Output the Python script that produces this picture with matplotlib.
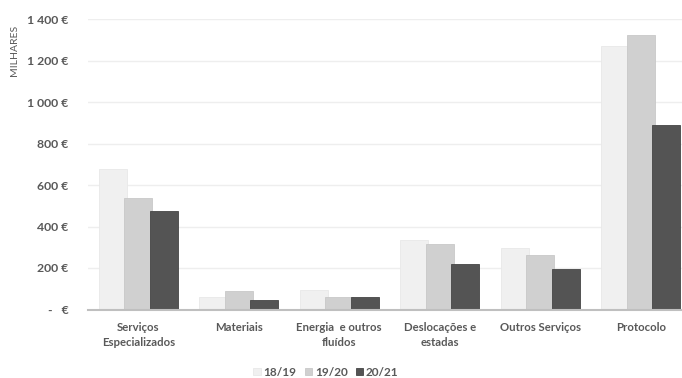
import numpy as np
import matplotlib
matplotlib.use("Agg")
import matplotlib.pyplot as plt
from matplotlib.ticker import FuncFormatter

# ---- data (milhares de euros) ----
categorias = ["Serviços\nEspecializados", "Materiais", "Energia  e outros\nfluídos",
              "Deslocações e\nestadas", "Outros Serviços", "Protocolo"]
anos = ["18/19", "19/20", "20/21"]
v_1819 = [677, 58, 96, 337, 295, 1270]
v_1920 = [537, 88, 59, 317, 265, 1323]
v_2021 = [476, 46, 62, 217, 197, 889]

cores = ["#F0F0F0", "#D0D0D0", "#545454"]
bordas = ["#E8E8E8", "#C8C8C8", "#454545"]
texto = "#595959"

plt.rcParams["font.family"] = ["Lato", "DejaVu Sans"]

fig = plt.figure(figsize=(6.82, 3.78), dpi=100)
# axes extends a bit beyond the right edge (cropped like the original)
ax = fig.add_axes([88 / 682, 1 - 309.5 / 378, 603 / 682, 290.5 / 378])

x = np.arange(len(categorias))
passo = 0.254
larg = 0.275
for i, (vals, lab) in enumerate(zip([v_1819, v_1920, v_2021], anos)):
    ax.bar(x + (i - 1) * passo, vals, width=larg, color=cores[i],
           edgecolor=bordas[i], linewidth=0.6, label=lab, zorder=2 + i)

ax.set_xlim(-0.5, len(categorias) - 0.5)
ax.set_ylim(0, 1400)
ax.set_yticks(range(0, 1401, 200))


def fmt_euro(v, pos):
    if v == 0:
        return "-   €"
    return f"{int(v):,} €".replace(",", " ")


ax.yaxis.set_major_formatter(FuncFormatter(fmt_euro))
ax.grid(axis="y", color="#EEEEEE", linewidth=1, zorder=0)
ax.set_axisbelow(True)
for s in ["top", "right", "left"]:
    ax.spines[s].set_visible(False)
ax.spines["bottom"].set_color("#BFBFBF")
ax.spines["bottom"].set_linewidth(1.5)
ax.spines["bottom"].set_zorder(10)

ax.set_xticks(x)
ax.set_xticklabels(categorias, fontsize=8.2, color=texto, fontweight="bold",
                   linespacing=1.45)
ax.tick_params(axis="x", length=0, pad=9)
ax.tick_params(axis="y", length=0, pad=14, labelsize=8.8, labelcolor=texto)
for t in ax.get_yticklabels():
    t.set_fontweight("bold")

fig.text(15 / 682, 1 - 50 / 378, "MILHARES", rotation=90, ha="center", va="center",
         fontsize=7.5, color=texto)

leg = fig.legend(loc="center", bbox_to_anchor=(326 / 682, 1 - 372 / 378), ncol=3,
                 frameon=False, fontsize=8.5, handlelength=0.6, handleheight=0.6,
                 handletextpad=0.25, columnspacing=0.7)
for t in leg.get_texts():
    t.set_color(texto)
    t.set_fontweight("bold")

fig.savefig("out.png", dpi=100)
